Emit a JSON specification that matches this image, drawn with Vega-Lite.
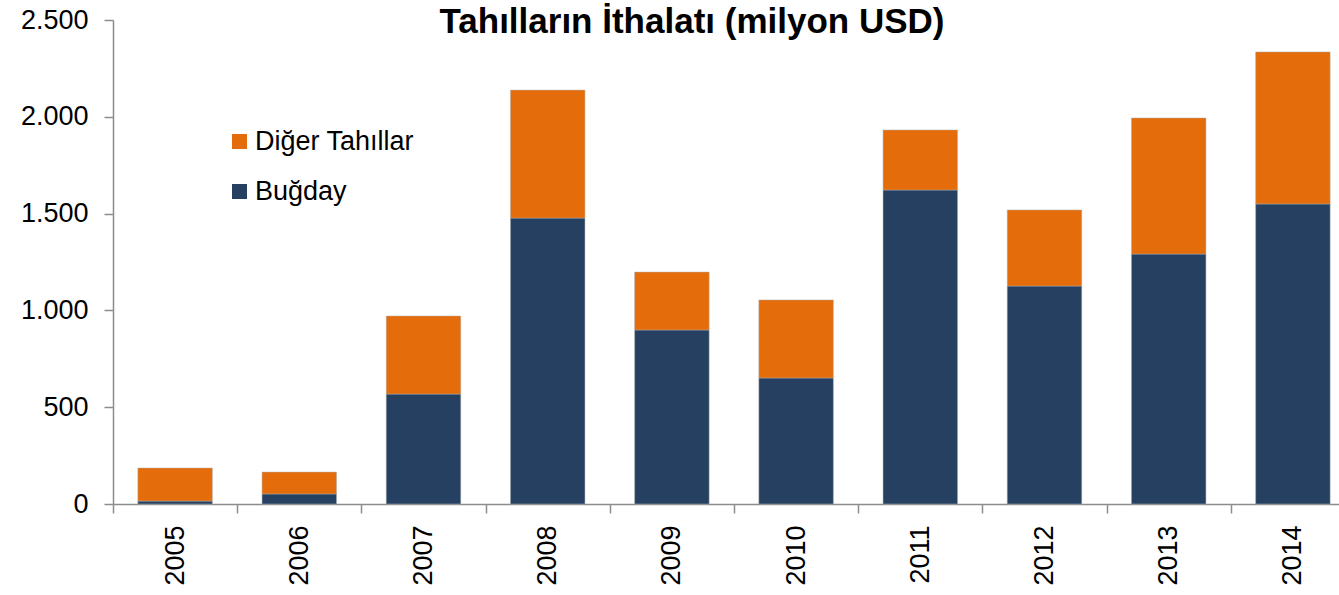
{
  "$schema": "https://vega.github.io/schema/vega-lite/v6.json",
  "autosize": {"type": "none"},
  "padding": {"left": 113, "top": 20, "right": 0, "bottom": 91},
  "width": 1226,
  "height": 484,
  "background": "white",
  "title": {
    "text": "Tahılların İthalatı (milyon USD)",
    "font": "Liberation Sans",
    "fontSize": 35,
    "fontWeight": "bold",
    "color": "black",
    "anchor": "middle",
    "dx": -34,
    "offset": -34
  },
  "data": {
    "values": [
      {"yil": "2005", "tur": "Buğday", "deger": 15},
      {"yil": "2005", "tur": "Diğer Tahıllar", "deger": 171},
      {"yil": "2006", "tur": "Buğday", "deger": 52},
      {"yil": "2006", "tur": "Diğer Tahıllar", "deger": 113},
      {"yil": "2007", "tur": "Buğday", "deger": 568},
      {"yil": "2007", "tur": "Diğer Tahıllar", "deger": 403},
      {"yil": "2008", "tur": "Buğday", "deger": 1477},
      {"yil": "2008", "tur": "Diğer Tahıllar", "deger": 661},
      {"yil": "2009", "tur": "Buğday", "deger": 899},
      {"yil": "2009", "tur": "Diğer Tahıllar", "deger": 299},
      {"yil": "2010", "tur": "Buğday", "deger": 651},
      {"yil": "2010", "tur": "Diğer Tahıllar", "deger": 403},
      {"yil": "2011", "tur": "Buğday", "deger": 1622},
      {"yil": "2011", "tur": "Diğer Tahıllar", "deger": 310},
      {"yil": "2012", "tur": "Buğday", "deger": 1126},
      {"yil": "2012", "tur": "Diğer Tahıllar", "deger": 393},
      {"yil": "2013", "tur": "Buğday", "deger": 1291},
      {"yil": "2013", "tur": "Diğer Tahıllar", "deger": 703},
      {"yil": "2014", "tur": "Buğday", "deger": 1550},
      {"yil": "2014", "tur": "Diğer Tahıllar", "deger": 785}
    ]
  },
  "mark": {"type": "bar", "width": {"band": 0.6}, "stroke": "#b0b0b0", "strokeWidth": 0.5},
  "encoding": {
    "x": {
      "field": "yil",
      "type": "ordinal",
      "scale": {"paddingInner": 0, "paddingOuter": 0, "range": [0, 1242]},
      "axis": {
        "title": null,
        "labelAngle": -90,
        "labelFont": "Liberation Sans",
        "labelFontSize": 27,
        "labelColor": "black",
        "labelPadding": 12,
        "tickBand": "extent",
        "tickSize": 9,
        "tickColor": "#8c8c8c",
        "domainColor": "#8c8c8c",
        "tickWidth": 1.5,
        "domainWidth": 1.5
      }
    },
    "y": {
      "field": "deger",
      "type": "quantitative",
      "stack": "zero",
      "scale": {"domain": [0, 2500], "nice": false},
      "axis": {
        "title": null,
        "values": [0, 500, 1000, 1500, 2000, 2500],
        "labelExpr": "replace(format(datum.value, ','), ',', '.')",
        "grid": false,
        "labelFont": "Liberation Sans",
        "labelFontSize": 27,
        "labelColor": "black",
        "labelPadding": 16,
        "tickSize": 9,
        "tickColor": "#8c8c8c",
        "domainColor": "#8c8c8c",
        "tickWidth": 1.5,
        "domainWidth": 1.5
      }
    },
    "color": {
      "field": "tur",
      "type": "nominal",
      "scale": {"domain": ["Diğer Tahıllar", "Buğday"], "range": ["#E46C0A", "#264061"]},
      "legend": {
        "title": null,
        "orient": "none",
        "legendX": 113,
        "legendY": 108,
        "padding": 0,
        "symbolType": "square",
        "symbolSize": 225,
        "symbolStrokeWidth": 0,
        "labelFont": "Liberation Sans",
        "labelFontSize": 27,
        "labelColor": "black",
        "labelOffset": 2,
        "rowPadding": 22
      }
    },
    "order": {"field": "tur", "sort": "ascending"}
  },
  "config": {"view": {"stroke": null}}
}
